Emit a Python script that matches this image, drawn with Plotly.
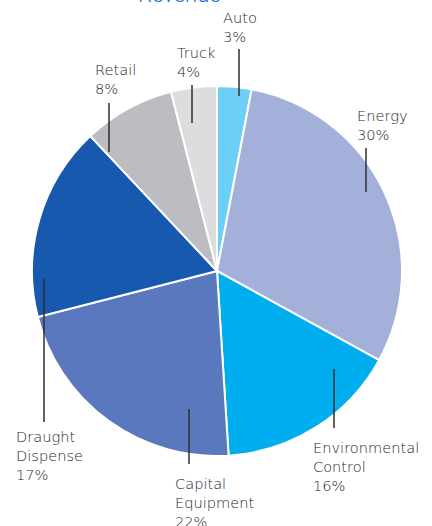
import plotly.graph_objects as go

# Revenue split by business segment, clockwise from 12 o'clock
segments = ["Auto", "Energy", "Environmental<br>Control", "Capital<br>Equipment",
            "Draught<br>Dispense", "Retail", "Truck"]
shares = [3, 30, 16, 22, 17, 8, 4]
colors = ["#6DCFF6", "#A3B0DA", "#00AEEF", "#5A78BE", "#1659AE", "#BCBDC0", "#DCDDDF"]

W, H = 432, 526

# label placement (px): text top-left corner, leader line x, leader line y-range
label_pos = [
    (221, 7, 239, 49, 96),
    (355, 105, 366, 148, 192),
    (311, 437, 334, 369, 428),
    (173, 473, 189, 409, 464),
    (14, 426, 44, 279, 422),
    (93, 59, 109, 103, 152),
    (175, 42, 192, 85, 123),
]


def px(x):
    return x / W


def py(y):
    return 1 - y / H


fig = go.Figure(go.Pie(
    labels=segments,
    values=shares,
    sort=False,
    direction="clockwise",
    rotation=0,
    marker=dict(colors=colors, line=dict(color="white", width=2)),
    textinfo="none",
    hoverinfo="label+percent",
    domain=dict(x=[px(32), px(402)], y=[py(456), py(86)]),
    showlegend=False,
))

annotations = []
shapes = []
for name, val, (tx, ty, lx, ly0, ly1) in zip(segments, shares, label_pos):
    annotations.append(dict(
        text=f"{name}<br>{val}%", x=px(tx), y=py(ty), xref="paper", yref="paper",
        xanchor="left", yanchor="top", align="left", showarrow=False,
        font=dict(family="DejaVu Sans", size=14.6, weight=200, color="#1E1E1E"),
    ))
    shapes.append(dict(
        type="line", xref="paper", yref="paper",
        x0=px(lx), x1=px(lx), y0=py(ly0), y1=py(ly1),
        line=dict(color="#2E2E2E", width=1.5),
    ))

# chart heading, sitting at the very top edge
annotations.append(dict(
    text="Revenue", x=px(179), y=py(8.5), xref="paper", yref="paper",
    xanchor="center", yanchor="bottom", showarrow=False,
    font=dict(family="Roboto", size=22, weight=300, color="#1B75C4"),
))

fig.update_layout(
    width=W, height=H,
    margin=dict(l=0, r=0, t=0, b=0),
    paper_bgcolor="white", plot_bgcolor="white",
    annotations=annotations, shapes=shapes,
)

fig.write_html("out.html")
